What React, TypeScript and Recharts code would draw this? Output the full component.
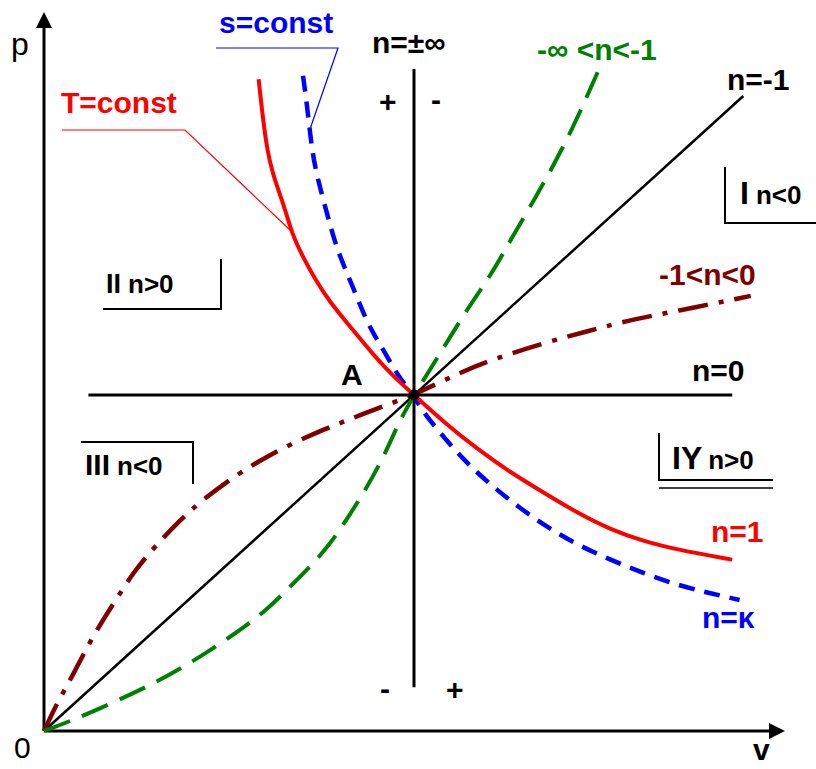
import { LineChart, Line, XAxis, YAxis, ReferenceLine, ReferenceDot } from "recharts";

// p-v diagram of polytropic processes, A = (1, 1)
const isotherm = [
  [0.58, 1.94], [0.6, 1.74], [0.62, 1.65], [0.65, 1.56], [0.67, 1.48],
  [0.7, 1.41], [0.73, 1.35], [0.77, 1.28], [0.83, 1.2], [0.89, 1.12], [0.94, 1.06],
  [1.0, 1.0], [1.08, 0.92], [1.17, 0.84], [1.26, 0.77], [1.35, 0.71], [1.44, 0.65],
  [1.53, 0.6], [1.62, 0.565], [1.71, 0.54], [1.86, 0.51],
].map(([v, p]) => ({ v, p }));

const adiabat = [
  [0.7, 1.95], [0.71, 1.87], [0.72, 1.77], [0.73, 1.69], [0.75, 1.6], [0.77, 1.52],
  [0.79, 1.44], [0.82, 1.36], [0.85, 1.28], [0.88, 1.2], [0.92, 1.13], [0.96, 1.05],
  [1.0, 1.0], [1.02, 0.955], [1.08, 0.875], [1.14, 0.8], [1.21, 0.73], [1.29, 0.66],
  [1.37, 0.6], [1.44, 0.555], [1.53, 0.51], [1.62, 0.47], [1.71, 0.435], [1.8, 0.41],
  [1.88, 0.39],
].map(([v, p]) => ({ v, p }));

const steepNeg = [
  [0, 0], [0.08, 0.033], [0.19, 0.086], [0.3, 0.143], [0.4, 0.205], [0.5, 0.277],
  [0.6, 0.357], [0.67, 0.435], [0.71, 0.479], [0.77, 0.55], [0.83, 0.65], [0.87, 0.72],
  [0.91, 0.8], [0.94, 0.87], [0.96, 0.92], [1.0, 1.0], [1.08, 1.14], [1.14, 1.25],
  [1.21, 1.36], [1.26, 1.46], [1.33, 1.59], [1.39, 1.71], [1.44, 1.82], [1.5, 1.97],
].map(([v, p]) => ({ v, p }));

const flatNeg = [
  [0, 0], [0.035, 0.083], [0.076, 0.161], [0.13, 0.28], [0.2, 0.4], [0.24, 0.47],
  [0.3, 0.55], [0.37, 0.63], [0.43, 0.69], [0.53, 0.77], [0.6, 0.815], [0.67, 0.855],
  [0.75, 0.895], [0.82, 0.925], [0.9, 0.96], [1.0, 1.0], [1.12, 1.065], [1.21, 1.105],
  [1.35, 1.155], [1.47, 1.19], [1.57, 1.22], [1.71, 1.25], [1.91, 1.295],
].map(([v, p]) => ({ v, p }));

const nMinusOne = [{ v: 0, p: 0 }, { v: 1.89, p: 1.89 }];
const nZero = [{ v: 0.12, p: 1 }, { v: 1.86, p: 1 }];
const nInf = [{ v: 1, p: 0.13 }, { v: 1, p: 1.97 }];

const V_MAX = 2;
const P_MAX = 2.14;

const FONT = '"Liberation Sans", Arial, sans-serif';

const ArrowRight = (props: any) => (
  <polygon points={`${props.cx + 1},${props.cy} ${props.cx - 15},${props.cy - 8} ${props.cx - 15},${props.cy + 8}`} fill="#000" />
);
const ArrowUp = (props: any) => (
  <polygon points={`${props.cx},${props.cy} ${props.cx - 8},${props.cy + 16} ${props.cx + 8},${props.cy + 16}`} fill="#000" />
);

export default function App() {
  return (
    <div style={{ position: "absolute", left: 0, top: 0, width: 816, height: 769, background: "#fff" }}>
      <LineChart width={816} height={769} margin={{ top: 12, right: 32, bottom: 38, left: 44 }}>
        <XAxis dataKey="v" type="number" domain={[0, V_MAX]} hide />
        <YAxis dataKey="p" type="number" domain={[0, P_MAX]} hide />

        <ReferenceLine segment={[{ x: 0, y: 0 }, { x: 1.97, y: 0 }]} stroke="#000" strokeWidth={3} ifOverflow="visible" />
        <ReferenceLine segment={[{ x: 0, y: 0 }, { x: 0, y: 2.1 }]} stroke="#000" strokeWidth={3} ifOverflow="visible" />
        <ReferenceDot x={V_MAX} y={0} shape={ArrowRight} ifOverflow="visible" />
        <ReferenceDot x={0} y={P_MAX} shape={ArrowUp} ifOverflow="visible" />

        <Line data={nZero} dataKey="p" type="linear" stroke="#000" strokeWidth={3} dot={false} activeDot={false} isAnimationActive={false} />
        <Line data={nInf} dataKey="p" type="linear" stroke="#000" strokeWidth={3} dot={false} activeDot={false} isAnimationActive={false} />
        <Line data={nMinusOne} dataKey="p" type="linear" stroke="#000" strokeWidth={2.5} dot={false} activeDot={false} isAnimationActive={false} />
        <Line data={flatNeg} dataKey="p" type="basis" stroke="#800000" strokeWidth={4.5} strokeDasharray="30 11 5 11" dot={false} activeDot={false} isAnimationActive={false} />
        <Line data={steepNeg} dataKey="p" type="basis" stroke="#008000" strokeWidth={4} strokeDasharray="28 13" dot={false} activeDot={false} isAnimationActive={false} />
        <Line data={adiabat} dataKey="p" type="basis" stroke="#0000ff" strokeWidth={4.5} strokeDasharray="16 10" dot={false} activeDot={false} isAnimationActive={false} />
        <Line data={isotherm} dataKey="p" type="basis" stroke="#ff0000" strokeWidth={4} dot={false} activeDot={false} isAnimationActive={false} />

        <ReferenceDot x={1} y={1} r={5} fill="#000" stroke="#000" />
      </LineChart>

      <svg width={816} height={769} style={{ position: "absolute", left: 0, top: 0, pointerEvents: "none" }} fontFamily={FONT}>
        {/* leader lines */}
        <polyline points="216,48 338,48 309,132" fill="none" stroke="#0000ff" strokeWidth={1.2} />
        <polyline points="62,130 185,130 290,230" fill="none" stroke="#ff0000" strokeWidth={1.2} />

        {/* region brackets */}
        <polyline points="725,167 725,223 816,223" fill="none" stroke="#000" strokeWidth={2} />
        <polyline points="103,309 221,309 221,259" fill="none" stroke="#000" strokeWidth={2} />
        <polyline points="81,442 193,442 193,484" fill="none" stroke="#000" strokeWidth={2} />
        <polyline points="659,433 659,480 773,480" fill="none" stroke="#000" strokeWidth={2} />
        <line x1={659} y1={488} x2={773} y2={488} stroke="#000" strokeWidth={1.3} />

        <text x={11} y={55} fontSize={32}>p</text>
        <text x={14} y={758} fontSize={30}>0</text>
        <text x={753} y={760} fontSize={30} fontWeight="bold">v</text>

        <text x={219} y={33} fontSize={30} fontWeight="bold" fill="#0000ff">s=const</text>
        <text x={61} y={113} fontSize={30} fontWeight="bold" fill="#ff0000">T=const</text>
        <text x={372} y={53} fontSize={30} fontWeight="bold">n=±∞</text>
        <text x={379} y={112} fontSize={30} fontWeight="bold">+</text>
        <text x={431} y={110} fontSize={30} fontWeight="bold">-</text>
        <text x={380} y={699} fontSize={30} fontWeight="bold">-</text>
        <text x={446} y={700} fontSize={30} fontWeight="bold">+</text>

        <text x={537} y={60} fontSize={30} fontWeight="bold" fill="#008000">-∞ &lt;n&lt;-1</text>
        <text x={727} y={90} fontSize={30} fontWeight="bold">n=-1</text>
        <text x={659} y={285} fontSize={30} fontWeight="bold" fill="#800000">-1&lt;n&lt;0</text>
        <text x={692} y={381} fontSize={30} fontWeight="bold">n=0</text>
        <text x={711} y={542} fontSize={30} fontWeight="bold" fill="#ff0000">n=1</text>
        <text x={702} y={628} fontSize={30} fontWeight="bold" fill="#0000ff">n=κ</text>
        <text x={341} y={385} fontSize={30} fontWeight="bold">A</text>

        <text x={740} y={204} fontWeight="bold"><tspan fontSize={32}>I</tspan><tspan fontSize={26} dx={7}>n&lt;0</tspan></text>
        <text x={106} y={293} fontWeight="bold"><tspan fontSize={27}>II</tspan><tspan fontSize={26} dx={7}>n&gt;0</tspan></text>
        <text x={85} y={475} fontWeight="bold"><tspan fontSize={30}>III</tspan><tspan fontSize={26} dx={7}>n&lt;0</tspan></text>
        <text x={672} y={469} fontWeight="bold"><tspan fontSize={32}>IY</tspan><tspan fontSize={26} dx={6}>n&gt;0</tspan></text>
      </svg>
    </div>
  );
}
